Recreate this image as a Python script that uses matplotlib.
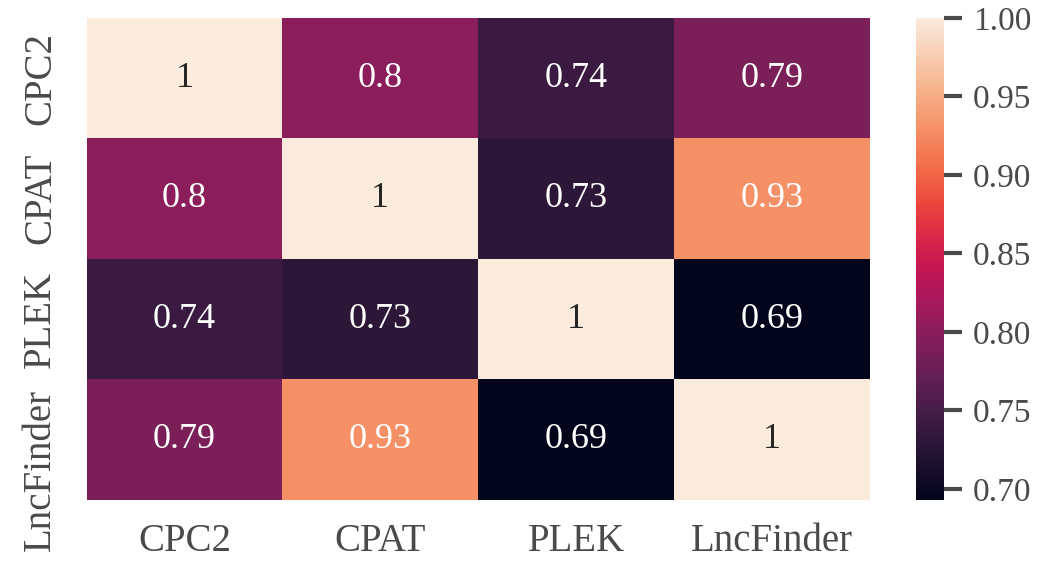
import numpy as np
import matplotlib
matplotlib.use("Agg")
import matplotlib.pyplot as plt
import matplotlib.transforms as mtransforms
import seaborn as sns

labels = ["CPC2", "CPAT", "PLEK", "LncFinder"]
row_cpc2 = [1.0, 0.80, 0.74, 0.79]
row_cpat = [0.80, 1.0, 0.73, 0.93]
row_plek = [0.74, 0.73, 1.0, 0.693]
row_lnc = [0.79, 0.93, 0.693, 1.0]
cbar_ticks = [0.70, 0.75, 0.80, 0.85, 0.90, 0.95, 1.00]

data = np.array([row_cpc2, row_cpat, row_plek, row_lnc])

plt.rcParams['font.family'] = ['Liberation Serif', 'DejaVu Serif']
fig = plt.figure(figsize=(10.58, 5.61), dpi=100)
ax = fig.add_axes([0.082, 0.109, 0.740, 0.859])
cax = fig.add_axes([0.866, 0.109, 0.026, 0.859])

sns.heatmap(data, ax=ax, cbar_ax=cax, cmap="rocket", annot=True, fmt=".2g",
            annot_kws={"fontsize": 26}, xticklabels=labels, yticklabels=labels)

tc = "#4a4a4a"
ax.tick_params(axis="both", length=0, labelsize=28, colors=tc)
ax.tick_params(axis="x", pad=17)
ax.tick_params(axis="y", pad=20)
for t in ax.get_yticklabels():
    t.set_rotation(90)
    t.set_va("center")
for t in ax.get_xticklabels():
    t.set_rotation(0)

cb = ax.collections[0].colorbar
cb.set_ticks(cbar_ticks)
cb.set_ticklabels([f"{v:.2f}" for v in cbar_ticks])
cax.tick_params(labelsize=24, colors=tc, length=13, width=3, pad=8)
cb.outline.set_visible(False)

# the last row label sits lower than its row centre in the reference
last = ax.get_yticklabels()[-1]
last.set_transform(last.get_transform() +
                   mtransforms.ScaledTranslation(0, -0.30, fig.dpi_scale_trans))

fig.savefig("out.png", dpi=100)
